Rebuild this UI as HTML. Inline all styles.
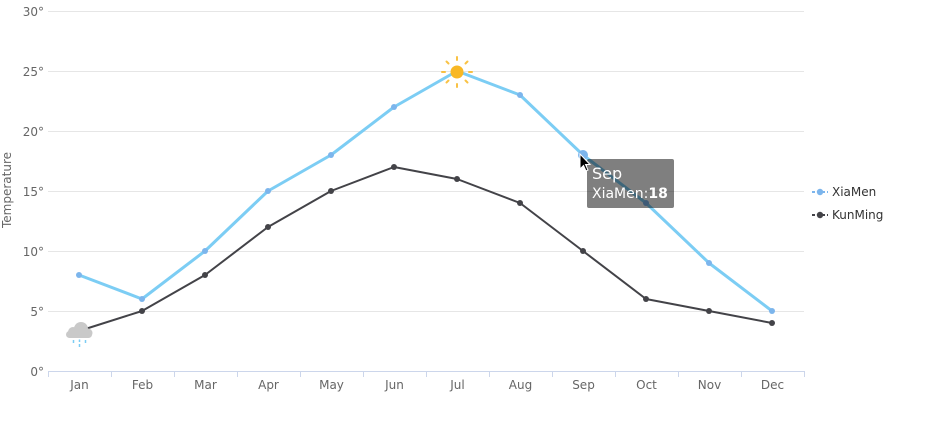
<!DOCTYPE html>
<html><head><meta charset="utf-8"><style>
html,body{margin:0;padding:0;background:#fff;}
svg{display:block;font-family:"DejaVu Sans","Liberation Sans",sans-serif;}
</style></head><body>
<svg width="925" height="438" viewBox="0 0 925 438" xmlns="http://www.w3.org/2000/svg">
<rect width="925" height="438" fill="#fff"/>
<!-- grid -->
<g stroke="#e6e6e6" stroke-width="1">
<line x1="48" y1="11.5" x2="804" y2="11.5"/>
<line x1="48" y1="71.5" x2="804" y2="71.5"/>
<line x1="48" y1="131.5" x2="804" y2="131.5"/>
<line x1="48" y1="191.5" x2="804" y2="191.5"/>
<line x1="48" y1="251.5" x2="804" y2="251.5"/>
<line x1="48" y1="311.5" x2="804" y2="311.5"/>
</g>
<line x1="48" y1="371.5" x2="804" y2="371.5" stroke="#ccd6eb" stroke-width="1"/>
<g stroke="#ccd6eb" stroke-width="1">
<line x1="48.5" y1="371" x2="48.5" y2="377"/><line x1="111.5" y1="371" x2="111.5" y2="377"/>
<line x1="174.5" y1="371" x2="174.5" y2="377"/><line x1="237.5" y1="371" x2="237.5" y2="377"/>
<line x1="300.5" y1="371" x2="300.5" y2="377"/><line x1="363.5" y1="371" x2="363.5" y2="377"/>
<line x1="426.5" y1="371" x2="426.5" y2="377"/><line x1="489.5" y1="371" x2="489.5" y2="377"/>
<line x1="552.5" y1="371" x2="552.5" y2="377"/><line x1="615.5" y1="371" x2="615.5" y2="377"/>
<line x1="678.5" y1="371" x2="678.5" y2="377"/><line x1="741.5" y1="371" x2="741.5" y2="377"/>
<line x1="804.5" y1="371" x2="804.5" y2="377"/>
</g>
<!-- y labels -->
<g font-size="12" fill="#666" text-anchor="end">
<text x="44" y="16">30°</text><text x="44" y="76">25°</text><text x="44" y="136">20°</text>
<text x="44" y="196">15°</text><text x="44" y="256">10°</text><text x="44" y="316">5°</text>
<text x="44" y="376">0°</text>
</g>
<text transform="translate(11,190) rotate(-90)" font-size="12" fill="#666" text-anchor="middle">Temperature</text>
<!-- x labels -->
<g font-size="12" fill="#666" text-anchor="middle">
<text x="79.5" y="389">Jan</text><text x="142.5" y="389">Feb</text><text x="205.5" y="389">Mar</text>
<text x="268.5" y="389">Apr</text><text x="331.5" y="389">May</text><text x="394.5" y="389">Jun</text>
<text x="457.5" y="389">Jul</text><text x="520.5" y="389">Aug</text><text x="583.5" y="389">Sep</text>
<text x="646.5" y="389">Oct</text><text x="709.5" y="389">Nov</text><text x="772.5" y="389">Dec</text>
</g>
<!-- KunMing -->
<polyline fill="none" stroke="#434348" stroke-width="2" stroke-linejoin="round" points="79,331 142,311 205,275 268,227 331,191 394,167 457,179 520,203 583,251 646,299 709,311 772,323"/>
<g fill="#434348">
<circle cx="142" cy="311" r="3"/><circle cx="205" cy="275" r="3"/><circle cx="268" cy="227" r="3"/>
<circle cx="331" cy="191" r="3"/><circle cx="394" cy="167" r="3"/><circle cx="457" cy="179" r="3"/>
<circle cx="520" cy="203" r="3"/><circle cx="583" cy="251" r="3"/><circle cx="646" cy="299" r="3"/>
<circle cx="709" cy="311" r="3"/><circle cx="772" cy="323" r="3"/>
</g>
<!-- XiaMen -->
<polyline fill="none" stroke="#7ccdf4" stroke-width="3" stroke-linejoin="round" points="79,275 142,299 205,251 268,191 331,155 394,107 457,71 520,95 583,155 646,203 709,263 772,311"/>
<g fill="#7cb5ec">
<circle cx="79" cy="275" r="3"/><circle cx="142" cy="299" r="3"/><circle cx="205" cy="251" r="3"/>
<circle cx="268" cy="191" r="3"/><circle cx="331" cy="155" r="3"/><circle cx="394" cy="107" r="3"/>
<circle cx="520" cy="95" r="3"/><circle cx="646" cy="203" r="3"/>
<circle cx="709" cy="263" r="3"/><circle cx="772" cy="311" r="3"/>
<circle cx="583" cy="155" r="5"/>
</g>
<!-- sun -->
<g>
<circle cx="457" cy="72" r="6.5" fill="#f8b825"/>
<g stroke="#f8b825" stroke-width="2" stroke-linecap="round" opacity="0.85">
<line x1="457" y1="60" x2="457" y2="57"/><line x1="457" y1="84" x2="457" y2="87"/>
<line x1="445" y1="72" x2="442" y2="72"/><line x1="469" y1="72" x2="472" y2="72"/>
<line x1="448.5" y1="63.5" x2="446.5" y2="61.5"/><line x1="465.5" y1="63.5" x2="467.5" y2="61.5"/>
<line x1="448.5" y1="80.5" x2="446.5" y2="82.5"/><line x1="465.5" y1="80.5" x2="467.5" y2="82.5"/>
</g>
</g>
<!-- cloud -->
<g fill="#c9c9c9">
<circle cx="81" cy="329" r="7"/>
<circle cx="73" cy="332" r="5"/>
<circle cx="88" cy="333" r="4.5"/>
<rect x="66" y="331" width="26" height="7" rx="3.5"/>
</g>
<g stroke="#7ccdf4" stroke-width="1.5">
<line x1="73.5" y1="340" x2="73.5" y2="343"/><line x1="79.5" y1="339.5" x2="79.5" y2="342"/>
<line x1="79.5" y1="344" x2="79.5" y2="347"/><line x1="85.5" y1="340" x2="85.5" y2="343"/>
</g>
<!-- legend -->
<line x1="812" y1="192" x2="828" y2="192" stroke="#7cb5ec" stroke-width="2" stroke-dasharray="3,2"/>
<circle cx="820" cy="192" r="3.2" fill="#7cb5ec"/>
<text x="832" y="196" font-size="12" fill="#333">XiaMen</text>
<line x1="812" y1="215" x2="828" y2="215" stroke="#434348" stroke-width="2" stroke-dasharray="3,2"/>
<circle cx="820" cy="215" r="3.2" fill="#434348"/>
<text x="832" y="219" font-size="12" fill="#333">KunMing</text>
<!-- tooltip -->
<rect x="587" y="159" width="87" height="49" rx="2" fill="rgba(0,0,0,0.5)"/>
<text x="592" y="179" font-size="16" fill="#fff">Sep</text>
<text x="592" y="198" font-size="14" fill="#fff">XiaMen:<tspan font-weight="bold">18</tspan></text>
<!-- cursor -->
<path d="M580,154 L580,169 L583.5,165.5 L586,171 L588,170 L585.5,164.5 L590,164.5 Z" fill="#000" stroke="#fff" stroke-width="1"/>
</svg>
</body></html>
